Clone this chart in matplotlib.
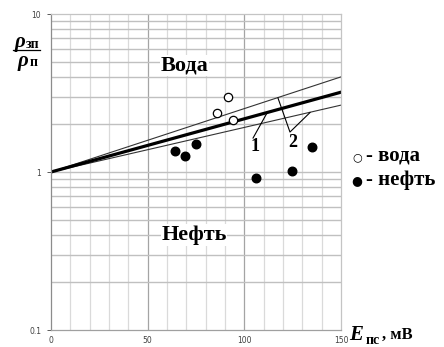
import matplotlib.pyplot as plt
import matplotlib
import numpy as np

# data
water_x = [91.6, 85.9, 94.1]
water_y = [2.98, 2.36, 2.13]
oil_x = [64.1, 69.3, 75.0, 106.0, 124.7, 135.0]
oil_y = [1.36, 1.26, 1.50, 0.92, 1.01, 1.44]

line_x = [0, 150]
main_y = [1, 3.2]
upper_y = [1, 4.0]
lower_y = [1, 2.65]

lead1_x = [104.5, 111.7]
lead1_y = [1.64, 2.36]
lead2_x = [117.4, 123.6, 134.0]
lead2_y = [2.94, 1.79, 2.38]

xticks = [0, 50, 100, 150]
yticks = [0.1, 1, 10]
yticklabels = ['0.1', '1', '10']

matplotlib.rcParams.update({'font.family': 'serif', 'font.serif': ['Liberation Serif', 'DejaVu Serif']})

fig = plt.figure(figsize=(4.44, 3.47), dpi=100)
ax = fig.add_axes([51/444, 17/347, 290/444, 316/347])
ax.set_yscale('log')
ax.set_xlim(0, 150)
ax.set_ylim(0.1, 10)

# grid
for v in range(10, 150, 10):
    c = '#a4a4a4' if v % 50 == 0 else '#dadada'
    ax.axvline(v, color=c, lw=0.9, zorder=0)
for dec in [0.1, 1]:
    for m in range(2, 10):
        ax.axhline(dec*m, color='#c0c0c0', lw=1.0, zorder=0)
ax.axhline(1, color='#c0c0c0', lw=1.0, zorder=0)
for s in ax.spines.values():
    s.set_color('#c4c4c4')
    s.set_linewidth(0.9)
ax.spines['left'].set_color('#8c8c8c')
ax.spines['bottom'].set_color('#a0a0a0')

ax.set_xticks(xticks)
ax.set_xticklabels([str(t) for t in xticks])
ax.set_yticks(yticks)
ax.set_yticklabels(yticklabels)
ax.yaxis.set_minor_locator(matplotlib.ticker.NullLocator())
ax.tick_params(labelsize=5.5, colors='#404040', length=3, width=0.6, pad=4)
ax.tick_params(axis='x', pad=4, length=0)
for lab in ax.get_xticklabels() + ax.get_yticklabels():
    lab.set_family('DejaVu Sans')

ax.plot(line_x, upper_y, color='#333333', lw=0.8, zorder=2)
ax.plot(line_x, lower_y, color='#333333', lw=0.8, zorder=2)
ax.plot(line_x, main_y, color='black', lw=2.3, zorder=2)
ax.plot(lead1_x, lead1_y, color='black', lw=0.8, zorder=2)
ax.plot(lead2_x, lead2_y, color='black', lw=0.8, zorder=2)

ax.scatter(water_x, water_y, s=36, facecolor='white', edgecolor='black', lw=0.9, zorder=4)
ax.scatter(oil_x, oil_y, s=38, color='black', zorder=4)

ax.text(105.5, 1.44, '1', fontsize=13, fontweight='bold', ha='center', va='center')
ax.text(125.2, 1.53, '2', fontsize=13, fontweight='bold', ha='center', va='center')

box = dict(facecolor='white', edgecolor='none', pad=0.5)
ax.text(69, 4.7, 'Вода', fontsize=16, fontweight='bold', ha='center', va='center', bbox=box)
ax.text(74, 0.4, 'Нефть', fontsize=16, fontweight='bold', ha='center', va='center', bbox=box)

# legend
fig.text(352/444, 1-157/347, '○', fontsize=8, ha='left', va='center', family='DejaVu Sans')
fig.text(366/444, 1-156/347, '- вода', fontsize=15, fontweight='bold', ha='left', va='center')
fig.text(351/444, 1-181/347, '●', fontsize=9, ha='left', va='center', family='DejaVu Sans')
fig.text(366/444, 1-180/347, '- нефть', fontsize=15, fontweight='bold', ha='left', va='center')

# y label
fig.text(20/444, 1-42/347, 'ρ', fontsize=15, fontweight='bold', style='italic', ha='center', va='center')
fig.text(33/444, 1-45/347, 'зп', fontsize=10, fontweight='bold', ha='center', va='center')
fig.add_artist(plt.Line2D([13/444, 40/444], [1-50/347, 1-50/347], color='black', lw=0.9))
fig.text(23/444, 1-61/347, 'ρ', fontsize=15, fontweight='bold', style='italic', ha='center', va='center')
fig.text(34/444, 1-63/347, 'п', fontsize=10, fontweight='bold', ha='center', va='center')

# x label
fig.text(356/444, 1-335/347, 'E', fontsize=15, fontweight='bold', style='italic', ha='center', va='center')
fig.text(373/444, 1-341/347, 'пс', fontsize=10, fontweight='bold', ha='center', va='center')
fig.text(382/444, 1-335/347, ', мВ', fontsize=12, fontweight='bold', ha='left', va='center')

plt.savefig('out.png', dpi=100)
